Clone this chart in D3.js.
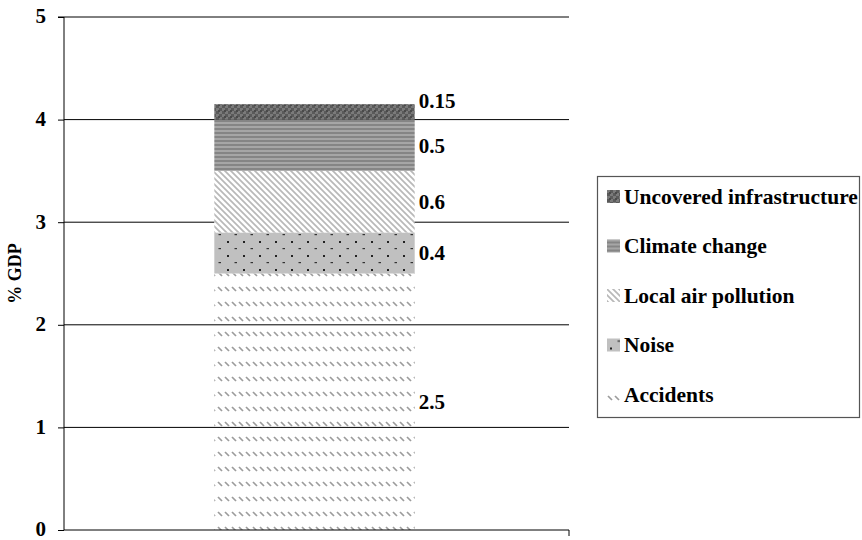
<!DOCTYPE html>
<html>
<head>
<meta charset="utf-8">
<script src="https://cdn.jsdelivr.net/npm/d3@7"></script>
<style>
  html, body { margin: 0; padding: 0; background: #fff; }
  svg { display: block; }
  text { font-family: "Liberation Serif", "Times New Roman", serif; font-weight: bold; }
</style>
</head>
<body>
<svg id="chart" width="862" height="540"></svg>
<script>
// External cost components, % of GDP, stacked bottom to top
const categories = ["Total"];
const seriesNames = ["Accidents", "Noise", "Local air pollution", "Climate change", "Uncovered infrastructure"];
const seriesValues = [2.5, 0.4, 0.6, 0.5, 0.15];
const valueLabels = ["2.5", "0.4", "0.6", "0.5", "0.15"];
const yTicks = [0, 1, 2, 3, 4, 5];
const legendOrder = ["Uncovered infrastructure", "Climate change", "Local air pollution", "Noise", "Accidents"];

const svg = d3.select("#chart");
const margin = { left: 64, right: 293, top: 17, bottom: 10 };
const W = 862, H = 540;
const FS = 21;

const x = d3.scaleBand().domain(categories).range([margin.left - 4, W - margin.right]).padding(0.435);
const y = d3.scaleLinear().domain([0, 5]).range([H - margin.bottom, margin.top]);

// ---- fill patterns ----
const defs = svg.append("defs");

// Accidents: rows of short backslash dashes
const pAcc = defs.append("pattern").attr("id", "p-acc").attr("patternUnits", "userSpaceOnUse")
  .attr("width", 7).attr("height", 15);
pAcc.append("line").attr("x1", 1).attr("y1", 2).attr("x2", 5).attr("y2", 6)
  .attr("stroke", "#9c9c9c").attr("stroke-width", 1.7);

// Noise: grey with black dots in offset rows
const pNoise = defs.append("pattern").attr("id", "p-noise").attr("patternUnits", "userSpaceOnUse")
  .attr("width", 16).attr("height", 14);
pNoise.append("rect").attr("width", 16).attr("height", 14).attr("fill", "#c0c0c0");
pNoise.append("rect").attr("x", 3).attr("y", 3).attr("width", 2).attr("height", 2).attr("fill", "#222");
pNoise.append("rect").attr("x", 10.5).attr("y", 10).attr("width", 2.5).attr("height", 1.2).attr("fill", "#333");

// Local air pollution: continuous backslash stripes
const pAir = defs.append("pattern").attr("id", "p-air").attr("patternUnits", "userSpaceOnUse")
  .attr("width", 6).attr("height", 6);
pAir.append("rect").attr("width", 6).attr("height", 6).attr("fill", "#fff");
pAir.append("path").attr("d", "M-1,-1 L7,7 M-4,2 L2,8 M4,-2 L8,2")
  .attr("stroke", "#b8b8b8").attr("stroke-width", 1.7);

// Climate change: horizontal grey stripes
const pClim = defs.append("pattern").attr("id", "p-clim").attr("patternUnits", "userSpaceOnUse")
  .attr("width", 4).attr("height", 4);
pClim.append("rect").attr("width", 4).attr("height", 4).attr("fill", "#a6a6a6");
pClim.append("rect").attr("y", 0).attr("width", 4).attr("height", 2).attr("fill", "#858585");

// Uncovered infrastructure: dark checker weave
const pUnc = defs.append("pattern").attr("id", "p-unc").attr("patternUnits", "userSpaceOnUse")
  .attr("width", 6).attr("height", 6);
pUnc.append("rect").attr("width", 6).attr("height", 6).attr("fill", "#5a5a5a");
pUnc.append("rect").attr("x", 0).attr("y", 0).attr("width", 3).attr("height", 3).attr("fill", "#7a7a7a");
pUnc.append("rect").attr("x", 3).attr("y", 3).attr("width", 3).attr("height", 3).attr("fill", "#7a7a7a");
pUnc.append("rect").attr("x", 2).attr("y", 2).attr("width", 2).attr("height", 2).attr("fill", "#4a4a4a");

const fills = {
  "Accidents": "url(#p-acc)",
  "Noise": "url(#p-noise)",
  "Local air pollution": "url(#p-air)",
  "Climate change": "url(#p-clim)",
  "Uncovered infrastructure": "url(#p-unc)"
};

// ---- gridlines ----
svg.append("g").selectAll("line").data(yTicks.filter(d => d > 0)).join("line")
  .attr("x1", margin.left).attr("x2", W - margin.right)
  .attr("y1", d => y(d)).attr("y2", d => y(d))
  .attr("stroke", "#000").attr("stroke-width", 1);

// ---- stacked bar ----
const stackRows = [Object.fromEntries(seriesNames.map((n, i) => [n, seriesValues[i]]))];
const stacked = d3.stack().keys(seriesNames)(stackRows);

svg.append("g").selectAll("rect").data(stacked).join("rect")
  .attr("x", x(categories[0]))
  .attr("width", x.bandwidth())
  .attr("y", d => y(d[0][1]))
  .attr("height", d => y(d[0][0]) - y(d[0][1]))
  .attr("fill", d => fills[d.key]);

// value labels to the right of each segment
svg.append("g").selectAll("text").data(stacked).join("text")
  .attr("x", x(categories[0]) + x.bandwidth() + 4)
  .attr("y", (d) => {
    const top = y(d[0][1]), bot = y(d[0][0]);
    return (bot - top) < 20 ? top - 4 : (top + bot) / 2;
  })
  .attr("dy", "0.35em")
  .attr("font-size", FS)
  .attr("fill", "#000")
  .text((d, i) => valueLabels[i]);

// ---- axes ----
const yAxis = d3.axisLeft(y).tickValues(yTicks).tickSize(6).tickPadding(12).tickFormat(d3.format("d"));
const gy = svg.append("g").attr("transform", `translate(${margin.left},0)`).call(yAxis);
gy.select(".domain").attr("stroke", "#000").attr("d", `M-6,${y(5)}H0V${y(0)}`);
gy.selectAll(".tick line").attr("stroke", "#000");
gy.selectAll(".tick text").attr("font-size", FS).attr("font-family", "Liberation Serif, serif")
  .attr("font-weight", "bold").attr("fill", "#000").attr("dy", "0.28em");

const xAxis = d3.axisBottom(x).tickSize(0).tickFormat("");
const gx = svg.append("g").attr("transform", `translate(0,${y(0)})`).call(xAxis);
gx.select(".domain").attr("stroke", "#000").attr("d", `M${margin.left},0H${W - margin.right}V6`);

// y-axis title
svg.append("text")
  .attr("transform", `translate(21,${(y(0) + y(5)) / 2}) rotate(-90)`)
  .attr("text-anchor", "middle")
  .attr("font-size", 18)
  .attr("fill", "#000")
  .text("% GDP");

// ---- legend ----
const lg = svg.append("g");
lg.append("rect").attr("x", 597.5).attr("y", 176.5).attr("width", 262).attr("height", 241)
  .attr("fill", "#fff").attr("stroke", "#555").attr("stroke-width", 1.2);
const items = lg.selectAll("g.item").data(legendOrder).join("g").attr("class", "item")
  .attr("transform", (d, i) => `translate(607,${196 + i * 49.5})`);
items.append("rect").attr("x", 0).attr("y", -6).attr("width", 13).attr("height", 13)
  .attr("fill", d => fills[d]);
items.append("text").attr("x", 17).attr("y", 0).attr("dy", "0.35em")
  .attr("font-size", 21.5).attr("fill", "#000").text(d => d);
</script>
</body>
</html>
